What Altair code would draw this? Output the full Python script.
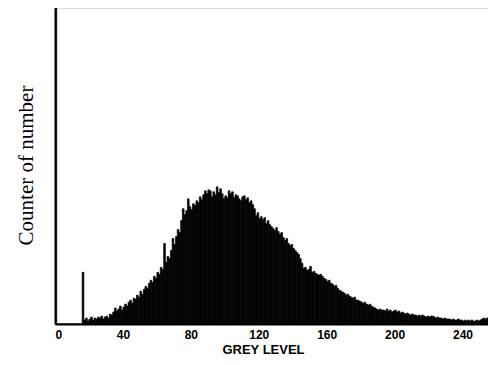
import altair as alt
import pandas as pd

# Histogram counts per grey level 0..259 (arbitrary units)
counts = [
    318, 0, 0, 0, 0, 0, 0, 0, 0, 0,
    0, 0, 0, 0, 0, 0, 52, 4, 6, 3,
    5, 7, 4, 6, 5, 7, 6, 8, 5, 7,
    8, 6, 10, 9, 12, 16, 13, 15, 18, 14,
    17, 20, 18, 22, 24, 21, 26, 25, 29, 27,
    33, 30, 35, 38, 36, 41, 44, 42, 48, 46,
    52, 50, 57, 55, 81, 62, 68, 66, 74, 86,
    80, 88, 95, 92, 104, 116, 110, 114, 126, 118,
    115, 121, 119, 124, 122, 128, 125, 130, 134, 131,
    135, 134, 128, 133, 130, 138, 132, 136, 131, 126,
    129, 127, 134, 131, 133, 127, 130, 129, 126, 124,
    128, 129, 125, 127, 122, 124, 120, 116, 109, 112,
    106, 108, 105, 107, 101, 104, 100, 98, 96, 94,
    97, 93, 90, 92, 87, 84, 86, 81, 79, 80,
    76, 74, 72, 70, 66, 61, 56, 57, 54, 55,
    58, 52, 53, 51, 50, 49, 50, 48, 46, 45,
    43, 44, 41, 40, 38, 39, 36, 34, 33, 32,
    31, 29, 30, 28, 27, 26, 27, 24, 24, 23,
    22, 21, 22, 20, 19, 20, 18, 17, 16, 15,
    14, 15, 14, 14, 13, 15, 13, 14, 12, 13,
    14, 12, 13, 11, 12, 11, 10, 11, 10, 9,
    10, 9, 9, 8, 9, 8, 9, 8, 7, 8,
    7, 8, 8, 7, 6, 7, 6, 6, 5, 6,
    5, 5, 5, 4, 5, 4, 4, 5, 4, 4,
    3, 4, 3, 4, 3, 4, 3, 3, 4, 3,
    4, 5, 6, 5, 6, 5, 4, 5, 4, 4,
]
grey_levels = list(range(len(counts)))
x_ticks = [0, 40, 80, 120, 160, 200, 240]

df = pd.DataFrame({"grey": grey_levels, "count": counts})

chart = (
    alt.Chart(df)
    .transform_calculate(grey_end="datum.grey + 1")
    .mark_bar(color="black", stroke="black", strokeWidth=0.7, clip=True)
    .encode(
        x=alt.X(
            "grey:Q",
            scale=alt.Scale(domain=[0, 255], nice=False, zero=True),
            axis=alt.Axis(
                values=x_ticks,
                title="GREY  LEVEL",
                titleFont="Liberation Sans",
                titleFontSize=13,
                titleFontWeight="bold",
                titleColor="black",
                titleX=208,
                titleY=29,
                titleAlign="center",
                titleBaseline="alphabetic",
                labelFont="Liberation Sans",
                labelFontSize=12,
                labelFontWeight="bold",
                labelColor="black",
                labelPadding=5,
                ticks=False,
                grid=False,
                domain=True,
                domainColor="black",
                domainWidth=2,
            ),
        ),
        x2="grey_end:Q",
        y=alt.Y(
            "count:Q",
            scale=alt.Scale(domain=[0, 318], nice=False),
            axis=alt.Axis(
                title="Counter of number",
                titleFont="Liberation Serif",
                titleFontSize=21,
                titleFontWeight="normal",
                titleColor="black",
                titleAngle=270,
                titleX=-23,
                titleY=157,
                titleAlign="center",
                titleBaseline="alphabetic",
                labels=False,
                ticks=False,
                grid=False,
                domain=True,
                domainColor="black",
                domainWidth=2,
            ),
        ),
        y2=alt.datum(0),
    )
    .properties(
        width=433,
        height=316,
        autosize=alt.AutoSizeParams(type="none"),
        padding={"left": 47, "top": 0, "right": 0, "bottom": 33},
    )
    .configure_view(stroke=None)
    .configure(background="white")
)

chart.save("out.html", embed_options={"renderer": "svg", "actions": False})
